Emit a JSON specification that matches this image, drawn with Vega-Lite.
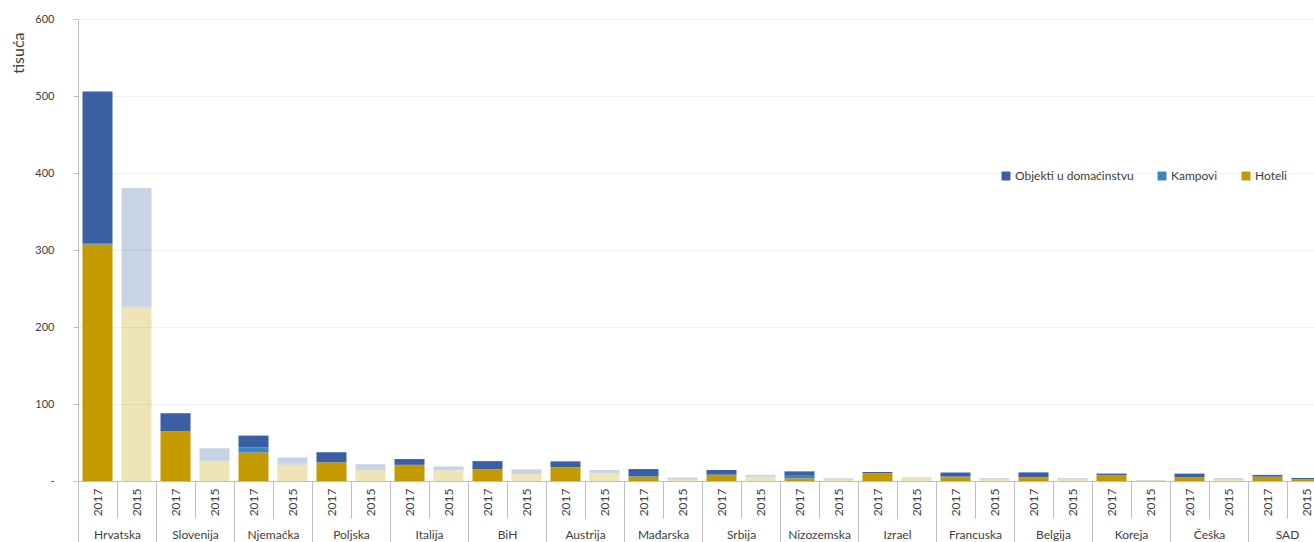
{
  "$schema": "https://vega.github.io/schema/vega-lite/v6.json",
  "autosize": {"type": "none"},
  "padding": {"left": 78, "top": 19, "right": 0, "bottom": 61},
  "width": 1236,
  "height": 462,
  "background": "white",
  "config": {
    "view": {"stroke": null},
    "font": "Lato",
    "axis": {"labelFont": "Lato", "titleFont": "Lato", "labelColor": "#404040", "titleColor": "#404040", "domainColor": "#BFBFBF", "tickColor": "#BFBFBF"},
    "legend": {"labelFont": "Lato"}
  },
  "data": {"values": [
    {"country": "Hrvatska", "year": "2017", "type": "Hoteli", "value": 307},
    {"country": "Hrvatska", "year": "2017", "type": "Kampovi", "value": 2},
    {"country": "Hrvatska", "year": "2017", "type": "Objekti u domaćinstvu", "value": 197},
    {"country": "Hrvatska", "year": "2015", "type": "Hoteli", "value": 225},
    {"country": "Hrvatska", "year": "2015", "type": "Kampovi", "value": 1.5},
    {"country": "Hrvatska", "year": "2015", "type": "Objekti u domaćinstvu", "value": 154},
    {"country": "Slovenija", "year": "2017", "type": "Hoteli", "value": 64},
    {"country": "Slovenija", "year": "2017", "type": "Kampovi", "value": 0.5},
    {"country": "Slovenija", "year": "2017", "type": "Objekti u domaćinstvu", "value": 23.5},
    {"country": "Slovenija", "year": "2015", "type": "Hoteli", "value": 26},
    {"country": "Slovenija", "year": "2015", "type": "Kampovi", "value": 0.5},
    {"country": "Slovenija", "year": "2015", "type": "Objekti u domaćinstvu", "value": 16},
    {"country": "Njemačka", "year": "2017", "type": "Hoteli", "value": 37},
    {"country": "Njemačka", "year": "2017", "type": "Kampovi", "value": 6.5},
    {"country": "Njemačka", "year": "2017", "type": "Objekti u domaćinstvu", "value": 15.5},
    {"country": "Njemačka", "year": "2015", "type": "Hoteli", "value": 21},
    {"country": "Njemačka", "year": "2015", "type": "Kampovi", "value": 2},
    {"country": "Njemačka", "year": "2015", "type": "Objekti u domaćinstvu", "value": 7.5},
    {"country": "Poljska", "year": "2017", "type": "Hoteli", "value": 24},
    {"country": "Poljska", "year": "2017", "type": "Kampovi", "value": 0.5},
    {"country": "Poljska", "year": "2017", "type": "Objekti u domaćinstvu", "value": 13},
    {"country": "Poljska", "year": "2015", "type": "Hoteli", "value": 14},
    {"country": "Poljska", "year": "2015", "type": "Kampovi", "value": 0.3},
    {"country": "Poljska", "year": "2015", "type": "Objekti u domaćinstvu", "value": 7.5},
    {"country": "Italija", "year": "2017", "type": "Hoteli", "value": 20},
    {"country": "Italija", "year": "2017", "type": "Kampovi", "value": 1},
    {"country": "Italija", "year": "2017", "type": "Objekti u domaćinstvu", "value": 7.5},
    {"country": "Italija", "year": "2015", "type": "Hoteli", "value": 14},
    {"country": "Italija", "year": "2015", "type": "Kampovi", "value": 0.5},
    {"country": "Italija", "year": "2015", "type": "Objekti u domaćinstvu", "value": 4.5},
    {"country": "BiH", "year": "2017", "type": "Hoteli", "value": 15},
    {"country": "BiH", "year": "2017", "type": "Kampovi", "value": 0.3},
    {"country": "BiH", "year": "2017", "type": "Objekti u domaćinstvu", "value": 10.5},
    {"country": "BiH", "year": "2015", "type": "Hoteli", "value": 9},
    {"country": "BiH", "year": "2015", "type": "Kampovi", "value": 0.2},
    {"country": "BiH", "year": "2015", "type": "Objekti u domaćinstvu", "value": 6},
    {"country": "Austrija", "year": "2017", "type": "Hoteli", "value": 17.5},
    {"country": "Austrija", "year": "2017", "type": "Kampovi", "value": 0.5},
    {"country": "Austrija", "year": "2017", "type": "Objekti u domaćinstvu", "value": 7.5},
    {"country": "Austrija", "year": "2015", "type": "Hoteli", "value": 10.5},
    {"country": "Austrija", "year": "2015", "type": "Kampovi", "value": 0.3},
    {"country": "Austrija", "year": "2015", "type": "Objekti u domaćinstvu", "value": 3.5},
    {"country": "Mađarska", "year": "2017", "type": "Hoteli", "value": 5.5},
    {"country": "Mađarska", "year": "2017", "type": "Kampovi", "value": 0.5},
    {"country": "Mađarska", "year": "2017", "type": "Objekti u domaćinstvu", "value": 9.5},
    {"country": "Mađarska", "year": "2015", "type": "Hoteli", "value": 2},
    {"country": "Mađarska", "year": "2015", "type": "Kampovi", "value": 0.2},
    {"country": "Mađarska", "year": "2015", "type": "Objekti u domaćinstvu", "value": 2.2},
    {"country": "Srbija", "year": "2017", "type": "Hoteli", "value": 8},
    {"country": "Srbija", "year": "2017", "type": "Kampovi", "value": 0.3},
    {"country": "Srbija", "year": "2017", "type": "Objekti u domaćinstvu", "value": 6},
    {"country": "Srbija", "year": "2015", "type": "Hoteli", "value": 5.5},
    {"country": "Srbija", "year": "2015", "type": "Kampovi", "value": 0.2},
    {"country": "Srbija", "year": "2015", "type": "Objekti u domaćinstvu", "value": 2.3},
    {"country": "Nizozemska", "year": "2017", "type": "Hoteli", "value": 3.4},
    {"country": "Nizozemska", "year": "2017", "type": "Kampovi", "value": 4.4},
    {"country": "Nizozemska", "year": "2017", "type": "Objekti u domaćinstvu", "value": 4.7},
    {"country": "Nizozemska", "year": "2015", "type": "Hoteli", "value": 1.5},
    {"country": "Nizozemska", "year": "2015", "type": "Kampovi", "value": 1},
    {"country": "Nizozemska", "year": "2015", "type": "Objekti u domaćinstvu", "value": 1},
    {"country": "Izrael", "year": "2017", "type": "Hoteli", "value": 10},
    {"country": "Izrael", "year": "2017", "type": "Kampovi", "value": 0.2},
    {"country": "Izrael", "year": "2017", "type": "Objekti u domaćinstvu", "value": 1.5},
    {"country": "Izrael", "year": "2015", "type": "Hoteli", "value": 5},
    {"country": "Izrael", "year": "2015", "type": "Kampovi", "value": 0.1},
    {"country": "Izrael", "year": "2015", "type": "Objekti u domaćinstvu", "value": 0.2},
    {"country": "Francuska", "year": "2017", "type": "Hoteli", "value": 5},
    {"country": "Francuska", "year": "2017", "type": "Kampovi", "value": 1},
    {"country": "Francuska", "year": "2017", "type": "Objekti u domaćinstvu", "value": 5},
    {"country": "Francuska", "year": "2015", "type": "Hoteli", "value": 2},
    {"country": "Francuska", "year": "2015", "type": "Kampovi", "value": 0.5},
    {"country": "Francuska", "year": "2015", "type": "Objekti u domaćinstvu", "value": 1.3},
    {"country": "Belgija", "year": "2017", "type": "Hoteli", "value": 4.5},
    {"country": "Belgija", "year": "2017", "type": "Kampovi", "value": 0.5},
    {"country": "Belgija", "year": "2017", "type": "Objekti u domaćinstvu", "value": 6.2},
    {"country": "Belgija", "year": "2015", "type": "Hoteli", "value": 2},
    {"country": "Belgija", "year": "2015", "type": "Kampovi", "value": 0.3},
    {"country": "Belgija", "year": "2015", "type": "Objekti u domaćinstvu", "value": 1.5},
    {"country": "Koreja", "year": "2017", "type": "Hoteli", "value": 7.5},
    {"country": "Koreja", "year": "2017", "type": "Kampovi", "value": 0.1},
    {"country": "Koreja", "year": "2017", "type": "Objekti u domaćinstvu", "value": 2},
    {"country": "Koreja", "year": "2015", "type": "Hoteli", "value": 0.8},
    {"country": "Koreja", "year": "2015", "type": "Kampovi", "value": 0},
    {"country": "Koreja", "year": "2015", "type": "Objekti u domaćinstvu", "value": 0.5},
    {"country": "Češka", "year": "2017", "type": "Hoteli", "value": 4.5},
    {"country": "Češka", "year": "2017", "type": "Kampovi", "value": 0.3},
    {"country": "Češka", "year": "2017", "type": "Objekti u domaćinstvu", "value": 4.8},
    {"country": "Češka", "year": "2015", "type": "Hoteli", "value": 2},
    {"country": "Češka", "year": "2015", "type": "Kampovi", "value": 0.2},
    {"country": "Češka", "year": "2015", "type": "Objekti u domaćinstvu", "value": 1.6},
    {"country": "SAD", "year": "2017", "type": "Hoteli", "value": 5.5},
    {"country": "SAD", "year": "2017", "type": "Kampovi", "value": 0.2},
    {"country": "SAD", "year": "2017", "type": "Objekti u domaćinstvu", "value": 2.2},
    {"country": "SAD", "year": "2015", "type": "Hoteli", "value": 2.5},
    {"country": "SAD", "year": "2015", "type": "Kampovi", "value": 0.1},
    {"country": "SAD", "year": "2015", "type": "Objekti u domaćinstvu", "value": 1.3}
  ]},
  "transform": [{"calculate": "datum.country + ' ' + datum.year", "as": "bar"}],
  "layer": [
    {
      "mark": {"type": "bar", "width": {"band": 0.77}},
      "encoding": {
        "x": {
          "field": "bar", "type": "nominal", "sort": null,
          "scale": {"paddingInner": 0, "paddingOuter": 0, "range": [0, 1248]},
          "axis": {
            "orient": "bottom", "title": null, "labelExpr": "slice(datum.label, -4)",
            "labelAngle": -90, "labelFontSize": 12, "labelColor": "#404040",
            "tickBand": "extent", "tickSize": 37, "labelPadding": -30,
            "domainColor": "#BFBFBF", "tickColor": "#BFBFBF", "grid": false
          }
        },
        "y": {
          "field": "value", "type": "quantitative", "stack": "zero",
          "scale": {"domain": [0, 600], "nice": false},
          "axis": {
            "title": "tisuća", "titleFontSize": 16, "titleFontWeight": "normal",
            "titleAngle": -90, "titleX": -60, "titleY": 13, "titleAlign": "right", "titleBaseline": "middle",
            "values": [0, 100, 200, 300, 400, 500, 600],
            "labelExpr": "datum.value == 0 ? '-' : datum.label",
            "labelFontSize": 11, "labelPadding": 19, "tickSize": 5,
            "grid": true, "gridColor": "#EFEFEF", "domainColor": "#BFBFBF", "tickColor": "#BFBFBF"
          }
        },
        "color": {
          "field": "type", "type": "nominal",
          "scale": {"domain": ["Objekti u domaćinstvu", "Kampovi", "Hoteli"], "range": ["#3A60A3", "#3A85C6", "#C49A00"]},
          "legend": {
            "orient": "none", "legendX": 922, "legendY": 151, "direction": "horizontal", "title": null,
            "symbolType": "square", "symbolSize": 80, "symbolStrokeWidth": 0,
            "labelFontSize": 12, "labelColor": "#404040", "columnPadding": 22, "labelOffset": 3
          }
        },
        "order": {"field": "type", "sort": "ascending"},
        "opacity": {
          "condition": {"test": "datum.year == '2017' || datum.country == 'SAD'", "value": 1},
          "value": 0.28
        }
      }
    },
    {
      "mark": {"type": "point", "opacity": 0},
      "encoding": {
        "x": {
          "field": "country", "type": "nominal", "sort": null,
          "scale": {"paddingInner": 0, "paddingOuter": 0, "range": [0, 1248]},
          "axis": {
            "orient": "bottom", "title": null, "labelAngle": 0, "labelFontSize": 12, "labelColor": "#404040",
            "tickBand": "extent", "tickSize": 61, "labelPadding": -13, "labelBaseline": "top",
            "domain": false, "tickColor": "#BFBFBF", "grid": false
          }
        }
      }
    }
  ],
  "resolve": {"scale": {"x": "independent"}, "axis": {"x": "independent"}}
}
